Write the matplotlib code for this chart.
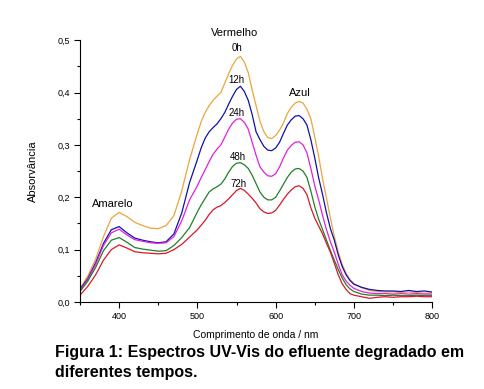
import matplotlib
matplotlib.use("Agg")
import matplotlib.pyplot as plt
from matplotlib.ticker import MultipleLocator, FuncFormatter

wavelength = [350, 360, 370, 380, 390, 400, 410, 420, 430, 440, 450, 460, 470, 480, 490,
              500, 505, 510, 515, 520, 525, 530, 535, 540, 545, 550, 555, 560, 565, 570,
              575, 580, 585, 590, 595, 600, 605, 610, 615, 620, 625, 630, 635, 640, 645,
              650, 655, 660, 665, 670, 675, 680, 685, 690, 695, 700, 710, 720, 730, 740,
              750, 760, 770, 780, 790, 800]

abs_0h = [0.026, 0.050, 0.082, 0.125, 0.160, 0.171, 0.163, 0.152, 0.146, 0.141, 0.140, 0.146,
          0.165, 0.212, 0.272, 0.322, 0.345, 0.362, 0.375, 0.385, 0.393, 0.400, 0.418, 0.436,
          0.452, 0.464, 0.469, 0.458, 0.438, 0.405, 0.375, 0.345, 0.325, 0.314, 0.312, 0.318,
          0.328, 0.342, 0.360, 0.372, 0.380, 0.383, 0.380, 0.368, 0.350, 0.315, 0.278, 0.235,
          0.198, 0.160, 0.125, 0.096, 0.072, 0.055, 0.043, 0.035, 0.027, 0.022, 0.020, 0.019,
          0.019, 0.018, 0.019, 0.018, 0.017, 0.017]
abs_12h = [0.024, 0.045, 0.075, 0.112, 0.138, 0.144, 0.132, 0.122, 0.118, 0.115, 0.113, 0.115,
           0.130, 0.170, 0.228, 0.272, 0.295, 0.313, 0.325, 0.333, 0.340, 0.350, 0.362, 0.378,
           0.393, 0.406, 0.412, 0.402, 0.385, 0.358, 0.325, 0.310, 0.297, 0.290, 0.289, 0.294,
           0.305, 0.322, 0.338, 0.348, 0.355, 0.356, 0.350, 0.338, 0.310, 0.275, 0.237, 0.205,
           0.170, 0.140, 0.118, 0.090, 0.068, 0.052, 0.041, 0.034, 0.028, 0.024, 0.022, 0.021,
           0.021, 0.020, 0.022, 0.020, 0.021, 0.019]
abs_24h = [0.022, 0.043, 0.072, 0.108, 0.132, 0.139, 0.128, 0.119, 0.116, 0.113, 0.112, 0.113,
           0.125, 0.155, 0.195, 0.222, 0.238, 0.253, 0.268, 0.282, 0.292, 0.300, 0.315, 0.330,
           0.342, 0.349, 0.350, 0.343, 0.330, 0.305, 0.280, 0.258, 0.248, 0.241, 0.240, 0.245,
           0.258, 0.275, 0.290, 0.299, 0.305, 0.306, 0.300, 0.285, 0.255, 0.222, 0.195, 0.165,
           0.138, 0.115, 0.095, 0.072, 0.052, 0.040, 0.032, 0.026, 0.020, 0.017, 0.016, 0.016,
           0.015, 0.016, 0.015, 0.016, 0.015, 0.015]
abs_48h = [0.020, 0.040, 0.066, 0.098, 0.118, 0.123, 0.114, 0.104, 0.101, 0.099, 0.097, 0.098,
           0.108, 0.123, 0.142, 0.172, 0.186, 0.198, 0.210, 0.216, 0.220, 0.225, 0.235, 0.248,
           0.259, 0.265, 0.266, 0.262, 0.255, 0.242, 0.226, 0.210, 0.200, 0.195, 0.195, 0.200,
           0.212, 0.225, 0.238, 0.248, 0.254, 0.255, 0.250, 0.238, 0.212, 0.182, 0.158, 0.138,
           0.118, 0.098, 0.080, 0.062, 0.046, 0.033, 0.025, 0.020, 0.015, 0.013, 0.013, 0.012,
           0.013, 0.012, 0.012, 0.013, 0.012, 0.012]
abs_72h = [0.013, 0.030, 0.052, 0.080, 0.100, 0.109, 0.103, 0.096, 0.094, 0.093, 0.092, 0.093,
           0.100, 0.110, 0.124, 0.138, 0.147, 0.156, 0.167, 0.176, 0.181, 0.184, 0.190, 0.197,
           0.205, 0.213, 0.217, 0.213, 0.206, 0.198, 0.189, 0.178, 0.172, 0.169, 0.170, 0.175,
           0.185, 0.196, 0.206, 0.214, 0.220, 0.222, 0.217, 0.205, 0.180, 0.160, 0.145, 0.130,
           0.112, 0.095, 0.074, 0.052, 0.035, 0.024, 0.016, 0.013, 0.010, 0.007, 0.009, 0.010,
           0.009, 0.010, 0.010, 0.011, 0.010, 0.010]

series = [abs_0h, abs_12h, abs_24h, abs_48h, abs_72h]
series_labels = ["0h", "12h", "24h", "48h", "72h"]
colors = ["#EBA53C", "#1010B0", "#E020E0", "#208028", "#D81828"]
label_pos = [(550, 0.485), (550, 0.424), (550, 0.361), (552, 0.277), (552, 0.225)]

plt.rcParams['font.family'] = ['Liberation Sans', 'DejaVu Sans']

fig = plt.figure(figsize=(4.85, 3.89), dpi=100)
ax = fig.add_axes([0.165, 0.2237, 0.726, 0.673])

for ys, c in zip(series, colors):
    ax.plot(wavelength, ys, color=c, lw=0.9)

for lab, (x, y) in zip(series_labels, label_pos):
    ax.text(x, y, lab, ha='center', va='center', fontsize=7)

ax.text(547, 0.513, "Vermelho", ha='center', va='center', fontsize=8, clip_on=False)
ax.text(631, 0.400, "Azul", ha='center', va='center', fontsize=8)
ax.text(392, 0.187, "Amarelo", ha='center', va='center', fontsize=8)

ax.set_xlim(350, 800)
ax.set_ylim(0, 0.5)
ax.xaxis.set_major_locator(MultipleLocator(100))
ax.xaxis.set_minor_locator(MultipleLocator(50))
ax.yaxis.set_major_locator(MultipleLocator(0.1))
ax.yaxis.set_minor_locator(MultipleLocator(0.05))
ax.yaxis.set_major_formatter(FuncFormatter(lambda v, p: f"{v:.1f}".replace('.', ',')))
ax.tick_params(which='major', direction='out', length=4, width=0.8, labelsize=6.5, pad=3)
ax.tick_params(which='minor', direction='out', length=2.5, width=0.8)
for s in ['top', 'right']:
    ax.spines[s].set_visible(False)

ax.set_xlabel("Comprimento de onda / nm", fontsize=7.5, labelpad=7)
ax.set_ylabel("Absorvância", fontsize=8, labelpad=14)

fig.text(0.113, 0.095, "Figura 1: Espectros UV-Vis do efluente degradado em", fontsize=11.5,
         fontweight='bold', ha='left', va='center')
fig.text(0.113, 0.043, "diferentes tempos.", fontsize=11.5, fontweight='bold', ha='left', va='center')

fig.savefig("out.png", dpi=100)
